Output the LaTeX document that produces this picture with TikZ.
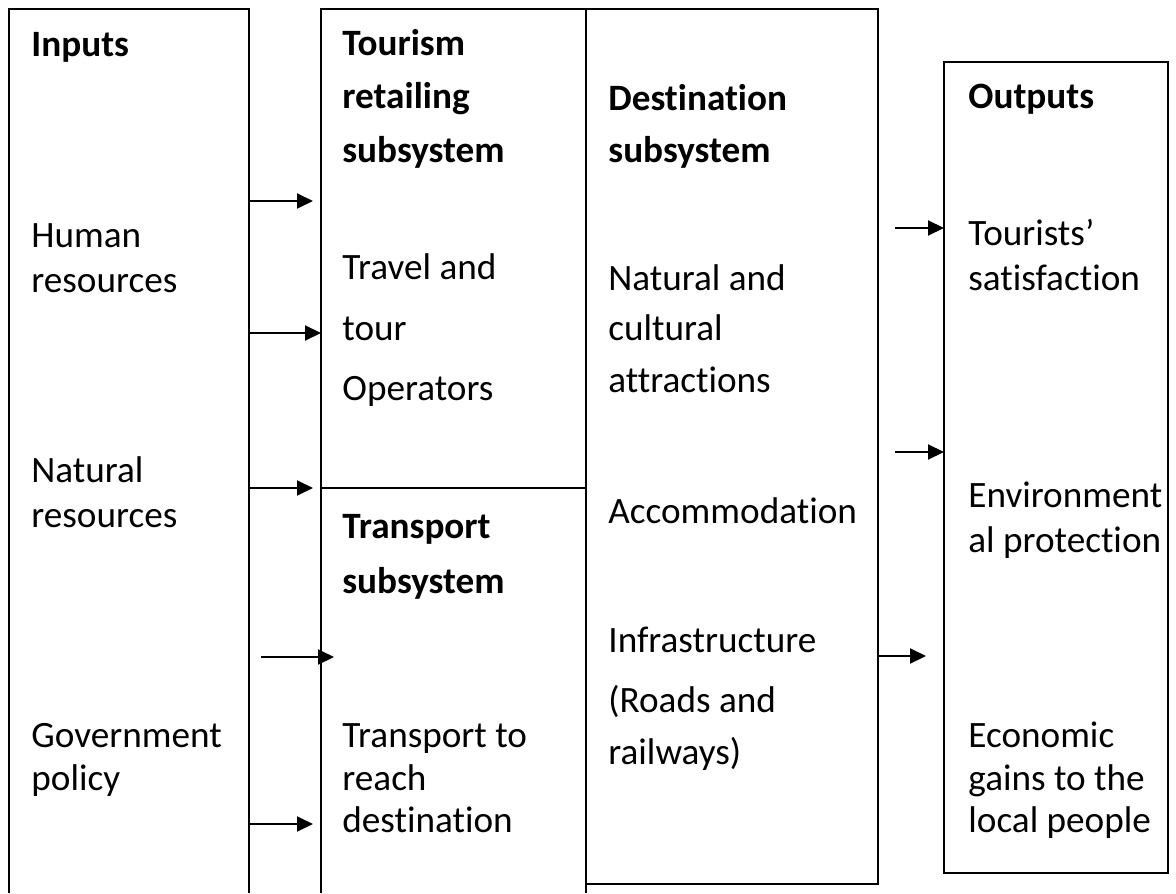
\documentclass[tikz,border=0pt]{standalone}
\usepackage{fontspec}
\setmainfont{Carlito}[RawFeature={-liga,-dlig,-clig}]
\usetikzlibrary{arrows.meta}
\begin{document}
\begin{tikzpicture}[x=0.5pt,y=-0.5pt,
  frame/.style={line width=1pt},
  arr/.style={line width=1pt,-{Triangle[length=8pt,width=7.5pt]}},
  txt/.style={anchor=base west,inner sep=0pt,font=\fontsize{18.6}{22}\selectfont},
  hd/.style={anchor=base west,inner sep=0pt,font=\fontsize{18.6}{22}\selectfont\bfseries}]
\useasboundingbox (0,0) rectangle (1176,893);

% column frames
\draw[frame] (9,893) -- (9,9) -- (249,9) -- (249,893);
\draw[frame] (321,893) -- (321,9) -- (586,9) -- (586,893);
\draw[frame] (321,488) -- (586,488);
\draw[frame] (586,9) -- (878,9) -- (878,884) -- (586,884);
\draw[frame] (944,62) rectangle (1168,873);

% inputs column
\node[hd]  (inp)  at (31,57)  {Inputs};
\node[txt] (hr1)  at (31,247) {Human};
\node[txt] (hr2)  at (31,292) {resources};
\node[txt] (nr1)  at (31,482) {Natural};
\node[txt] (nr2)  at (31,527) {resources};
\node[txt] (gp1)  at (31,747) {Government};
\node[txt] (gp2)  at (31,790) {policy};

% tourism retailing subsystem
\node[hd]  (tr1)  at (342,56)  {Tourism};
\node[hd]  (tr2)  at (342,109) {retailing};
\node[hd]  (tr3)  at (342,163) {subsystem};
\node[txt] (to1)  at (342,279) {Travel and};
\node[txt] (to2)  at (342,340) {tour};
\node[txt] (to3)  at (342,400) {Operators};

% transport subsystem
\node[hd]  (ts1)  at (342,538) {Transport};
\node[hd]  (ts2)  at (342,593) {subsystem};
\node[txt] (tt1)  at (342,747) {Transport to};
\node[txt] (tt2)  at (342,790) {reach};
\node[txt] (tt3)  at (342,832) {destination};

% destination subsystem
\node[hd]  (ds1)  at (608,111) {Destination};
\node[hd]  (ds2)  at (608,163) {subsystem};
\node[txt] (na1)  at (608,290) {Natural and};
\node[txt] (na2)  at (608,340) {cultural};
\node[txt] (na3)  at (608,392) {attractions};
\node[txt] (acc)  at (608,523) {Accommodation};
\node[txt] (inf)  at (608,652) {Infrastructure};
\node[txt] (rr1)  at (608,712) {(Roads and};
\node[txt] (rr2)  at (608,764) {railways)};

% outputs column
\node[hd]  (out)  at (968,109) {Outputs};
\node[txt] (sa1)  at (968,245) {Tourists’};
\node[txt] (sa2)  at (968,290) {satisfaction};
\node[txt] (ep1)  at (968,507) {Environment};
\node[txt] (ep2)  at (968,552) {al protection};
\node[txt] (eg1)  at (968,747) {Economic};
\node[txt] (eg2)  at (968,790) {gains to the};
\node[txt] (eg3)  at (968,832) {local people};

% arrow end points
\coordinate (i1s) at (249,201); \coordinate (i1e) at (313,201);
\coordinate (i2s) at (249,333); \coordinate (i2e) at (321,333);
\coordinate (i3s) at (249,488); \coordinate (i3e) at (313,488);
\coordinate (i4s) at (261,657); \coordinate (i4e) at (334,657);
\coordinate (i5s) at (249,824); \coordinate (i5e) at (313,824);
\coordinate (o1s) at (895,228); \coordinate (o1e) at (944,228);
\coordinate (o2s) at (895,452); \coordinate (o2e) at (944,452);
\coordinate (o3s) at (878,656); \coordinate (o3e) at (926,656);

\foreach \a in {i1,i2,i3,i4,i5,o1,o2,o3}
  \draw[arr] (\a s) -- (\a e);
\end{tikzpicture}
\end{document}
